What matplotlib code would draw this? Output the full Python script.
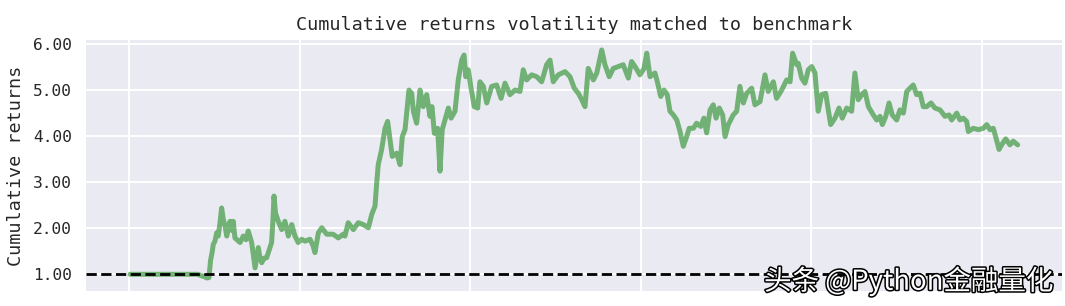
import matplotlib
matplotlib.use("Agg")
import matplotlib.pyplot as plt
import matplotlib.ticker as mticker
import matplotlib.patheffects as pe
import seaborn as sns

# time in years since start of backtest
t = [0.006, 0.123, 0.270, 0.404, 0.422, 0.440, 0.457, 0.469, 0.478, 0.487,
     0.494, 0.504, 0.514, 0.523, 0.533, 0.543, 0.553, 0.563, 0.573, 0.592,
     0.604, 0.611, 0.621, 0.651, 0.670, 0.686, 0.699, 0.719, 0.739, 0.758,
     0.768, 0.778, 0.791, 0.807, 0.836, 0.844, 0.850, 0.859, 0.875, 0.895,
     0.914, 0.934, 0.954, 0.973, 0.992, 1.012, 1.032, 1.061, 1.079, 1.090,
     1.110, 1.130, 1.159, 1.196, 1.227, 1.256, 1.266, 1.285, 1.315, 1.344,
     1.373, 1.403, 1.423, 1.442, 1.452, 1.461, 1.481, 1.501, 1.516, 1.530,
     1.543, 1.569, 1.589, 1.602, 1.618, 1.641, 1.657, 1.667, 1.686, 1.706,
     1.725, 1.745, 1.764, 1.776, 1.790, 1.809, 1.823, 1.836, 1.852, 1.872,
     1.888, 1.911, 1.930, 1.950, 1.964, 1.974, 1.989, 2.005, 2.024, 2.044,
     2.057, 2.077, 2.097, 2.126, 2.155, 2.181, 2.204, 2.233, 2.263, 2.292,
     2.311, 2.331, 2.360, 2.390, 2.419, 2.448, 2.468, 2.487, 2.516, 2.556,
     2.585, 2.610, 2.634, 2.654, 2.673, 2.692, 2.722, 2.742, 2.771, 2.790,
     2.815, 2.839, 2.868, 2.897, 2.927, 2.946, 2.966, 2.995, 3.019, 3.035,
     3.054, 3.083, 3.097, 3.117, 3.136, 3.155, 3.171, 3.191, 3.211, 3.230,
     3.249, 3.269, 3.284, 3.308, 3.327, 3.351, 3.370, 3.386, 3.406, 3.425,
     3.441, 3.460, 3.480, 3.494, 3.513, 3.542, 3.562, 3.581, 3.601, 3.621,
     3.650, 3.669, 3.699, 3.728, 3.747, 3.777, 3.796, 3.826, 3.855, 3.875,
     3.890, 3.914, 3.923, 3.943, 3.962, 3.982, 4.002, 4.021, 4.040, 4.060,
     4.084, 4.099, 4.113, 4.138, 4.162, 4.181, 4.207, 4.236, 4.255, 4.275,
     4.295, 4.314, 4.334, 4.363, 4.383, 4.402, 4.416, 4.436, 4.455, 4.474,
     4.500, 4.519, 4.539, 4.559, 4.578, 4.597, 4.617, 4.637, 4.656, 4.676,
     4.701, 4.724, 4.754, 4.783, 4.807, 4.822, 4.852, 4.871, 4.890, 4.910,
     4.920, 4.949, 4.978, 5.008, 5.028, 5.047, 5.066, 5.080, 5.100, 5.115,
     5.139, 5.164, 5.183, 5.209]

cum_returns = [1.00, 1.00, 1.00, 1.00, 0.97, 0.95, 0.92, 0.93, 1.30, 1.47,
               1.65, 1.72, 1.90, 1.83, 2.10, 2.44, 2.19, 2.05, 1.83, 2.15,
               1.95, 2.15, 1.79, 1.69, 1.83, 1.75, 1.94, 1.69, 1.14, 1.58,
               1.35, 1.25, 1.35, 1.36, 1.69, 2.20, 2.70, 2.33, 2.15, 1.97,
               2.15, 1.83, 2.08, 1.83, 1.69, 1.76, 1.72, 1.76, 1.62, 1.47,
               1.90, 2.01, 1.87, 1.87, 1.79, 1.87, 1.83, 2.12, 1.97, 2.12,
               2.08, 2.01, 2.30, 2.48, 2.98, 3.38, 3.71, 4.17, 4.32, 3.92,
               3.56, 3.63, 3.38, 3.99, 4.14, 5.00, 4.93, 4.54, 4.28, 5.00,
               4.64, 4.90, 4.43, 4.64, 4.06, 4.17, 3.24, 4.14, 4.35, 4.61,
               4.39, 4.54, 5.22, 5.65, 5.76, 5.29, 5.44, 5.04, 4.64, 4.61,
               5.18, 5.08, 4.72, 5.08, 5.11, 4.82, 5.15, 4.90, 5.00, 4.97,
               5.44, 5.22, 5.33, 5.29, 5.18, 5.55, 5.65, 5.18, 5.33, 5.40,
               5.29, 5.04, 4.93, 4.79, 4.64, 5.47, 5.22, 5.37, 5.87, 5.55,
               5.29, 5.47, 5.51, 5.55, 5.26, 5.62, 5.51, 5.33, 5.47, 5.80,
               5.29, 5.37, 5.18, 4.86, 5.00, 4.90, 4.54, 4.46, 4.35, 4.10,
               3.78, 3.99, 4.17, 4.17, 4.28, 4.21, 4.39, 4.07, 4.57, 4.68,
               4.39, 4.61, 4.46, 3.99, 4.25, 4.46, 4.54, 5.08, 4.72, 4.93,
               5.04, 4.68, 4.75, 5.33, 4.97, 5.18, 4.82, 5.00, 5.22, 5.18,
               5.80, 5.55, 5.58, 5.26, 5.15, 5.44, 5.51, 5.37, 4.54, 4.90,
               4.93, 4.57, 4.25, 4.39, 4.61, 4.39, 4.61, 4.54, 5.37, 4.79,
               4.90, 4.97, 4.64, 4.46, 4.35, 4.43, 4.25, 4.43, 4.72, 4.46,
               4.35, 4.57, 4.50, 4.97, 5.04, 5.11, 4.90, 4.93, 4.64, 4.64,
               4.72, 4.61, 4.57, 4.43, 4.46, 4.35, 4.50, 4.35, 4.39, 4.32,
               4.10, 4.17, 4.14, 4.17, 4.25, 4.14, 4.17, 3.99, 3.71, 3.81,
               3.94, 3.81, 3.89, 3.81]

benchmark_level = 1.0
year_ticks = [0, 1, 2, 3, 4, 5]
title = "Cumulative returns volatility matched to benchmark"
ylabel = "Cumulative returns"
watermark = "头条 @Python金融量化"

sns.set_style("darkgrid")
mono = ["DejaVu Sans Mono"]

fig = plt.figure(figsize=(10.65, 3.06), dpi=100)
ax = fig.add_axes([86 / 1065, 1 - 291 / 306, (1062 - 86) / 1065, (291 - 40) / 306])

ax.plot(t, cum_returns, lw=3.6, color="forestgreen", alpha=0.6,
        solid_joinstyle="round")
ax.axhline(benchmark_level, linestyle="--", color="black", lw=2)

ax.set_xlim(-0.252, 5.469)
ax.set_ylim(0.637, 6.087)
ax.set_xticks(year_ticks)
ax.set_xticklabels([])
ax.set_yticks([1, 2, 3, 4, 5, 6])
ax.yaxis.set_major_formatter(mticker.FormatStrFormatter("%.2f"))
ax.tick_params(axis="y", length=0, pad=10, labelsize=11.7, labelcolor="#262626")
ax.tick_params(axis="x", length=0)
for lab in ax.get_yticklabels():
    lab.set_family(mono)
ax.grid(True, color="white", lw=1.4)
for s in ax.spines.values():
    s.set_visible(False)

ax.set_title(title, family=mono, fontsize=13.3, color="#262626", pad=7)
ax.set_ylabel(ylabel, family=mono, fontsize=13.3, color="#262626", labelpad=6)

fig.text(0.989, 1 - 281 / 306, watermark, ha="right", va="center",
         fontsize=19.8, color="white", family=["Noto Sans CJK SC", "DejaVu Sans"],
         path_effects=[pe.withStroke(linewidth=2.2, foreground="black")])

fig.savefig("out.png", dpi=100)
